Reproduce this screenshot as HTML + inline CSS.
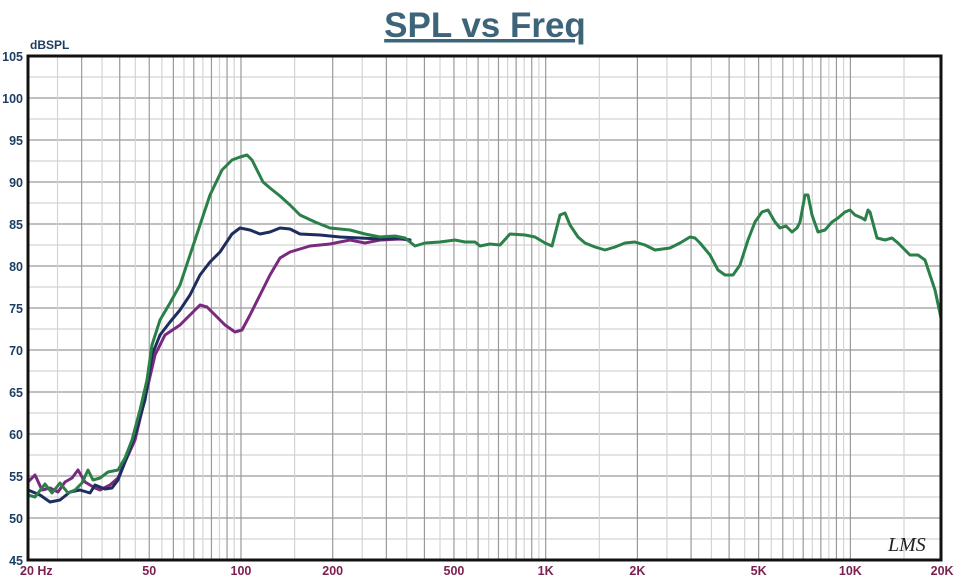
<!DOCTYPE html>
<html><head><meta charset="utf-8"><style>
html,body{margin:0;padding:0;background:#fff;}
svg{display:block;font-family:"Liberation Sans",Arial,sans-serif;}
</style></head><body>
<svg id="s" width="964" height="580" viewBox="0 0 964 580" xmlns="http://www.w3.org/2000/svg">
<text x="485" y="37" text-anchor="middle" font-size="35" font-weight="bold" fill="#3d6478" text-decoration="underline">SPL vs Freq</text>
<text x="30" y="49" font-size="12" font-weight="bold" fill="#1d3e63">dBSPL</text>
<g id="grid"></g>
<g id="labels" font-size="12.5" font-weight="bold"></g>
<g fill="none" stroke-width="3" stroke-linejoin="round" stroke-linecap="round">
<polyline stroke="#7a2a7e" points="28,482 35,475 42,490 50,488 58,492 65,482 72,478 78,470 85,482 95,488 100,490 110,485 118,478 125,462 135,440 145,398 155,355 165,335 180,325 190,315 200,305 207,307 215,315 225,325 235,332 242,330 250,315 260,295 270,275 280,258 290,252 310,246 330,244 350,240 365,243 380,240 400,239 410,240"/>
<polyline stroke="#1f2d5e" points="28,490 40,495 50,502 60,500 70,492 80,490 90,493 95,485 105,489 112,488 118,480 125,462 135,435 145,400 152,355 160,335 170,322 180,310 190,295 200,275 210,262 220,252 232,234 240,228 250,230 260,234 270,232 280,228 290,229 300,234 320,235 340,237 360,238 380,239 400,238 410,240"/>
<polyline stroke="#2a8048" points="28,495 35,497 45,484 52,493 60,483 68,493 75,490 82,483 88,470 93,480 100,478 108,472 118,470 125,458 132,440 140,410 147,380 152,345 160,320 170,303 180,285 190,255 200,225 210,195 222,170 232,160 240,157 247,155 252,160 258,172 263,182 270,188 280,196 290,205 300,215 315,222 330,228 350,230 365,234 380,237 395,236 405,238 415,246 425,243 440,242 455,240 465,242 475,242 480,246 490,244 500,245 510,234 525,235 535,237 545,243 552,246 560,215 565,213 570,225 578,237 585,243 595,247 605,250 615,247 625,243 635,242 645,245 655,250 670,248 680,243 690,237 695,238 700,243 710,255 718,270 725,275 733,275 740,265 748,240 755,222 762,212 768,210 775,222 780,228 786,226 792,232 797,228 800,222 805,195 808,195 812,215 818,232 825,230 832,222 838,218 845,212 850,210 855,215 862,218 865,220 868,210 870,212 877,238 885,240 892,238 898,243 905,250 910,255 918,255 925,260 935,290 941,318"/>
</g>
<rect x="28" y="56" width="913" height="504" fill="none" stroke="#111" stroke-width="3"/>
<text x="888" y="551" font-size="20" font-style="italic" fill="#222" font-family="Liberation Serif,serif">LMS</text>
</svg>
<script>
var ns="http://www.w3.org/2000/svg",g=document.getElementById('grid'),L=document.getElementById('labels');
function X(f){return 28+304.7*Math.log10(f/20);}
function Y(d){return 56+(105-d)*8.4;}
function ln(x1,y1,x2,y2,c,w){var e=document.createElementNS(ns,'line');e.setAttribute('x1',x1);e.setAttribute('y1',y1);e.setAttribute('x2',x2);e.setAttribute('y2',y2);e.setAttribute('stroke',c);e.setAttribute('stroke-width',w);g.appendChild(e);}
function tx(x,y,t,c,a){var e=document.createElementNS(ns,'text');e.setAttribute('x',x);e.setAttribute('y',y);e.setAttribute('fill',c);e.setAttribute('text-anchor',a);e.textContent=t;L.appendChild(e);}
for(var d=45;d<=105;d+=2.5){var maj=(d%5==0);ln(28,Y(d),941,Y(d),maj?'#9a9a9a':'#d4d4d4',1.2);if(maj)tx(23,Y(d)+5,String(d),'#1d3e63','end');}
[[20,100,5,10],[100,1000,50,100],[1000,10000,500,1000],[10000,20000,5000,10000]].forEach(function(r){for(var f=r[0]+r[2];f<r[1]+0.1;f+=r[2]){if(f>=20000)break;var q=f/r[3];var maj=Math.abs(q-Math.round(q))<1e-6;ln(X(f),56,X(f),560,maj?'#9a9a9a':'#d4d4d4',1.2);}});
[[20,'20  Hz','start'],[50,'50'],[100,'100'],[200,'200'],[500,'500'],[1000,'1K'],[2000,'2K'],[5000,'5K'],[10000,'10K'],[20000,'20K']].forEach(function(a){if(a[2])tx(20,575,a[1],'#7b1f4f','start');else tx(X(a[0]),575,a[1],'#7b1f4f','middle');});
</script>
</body></html>
